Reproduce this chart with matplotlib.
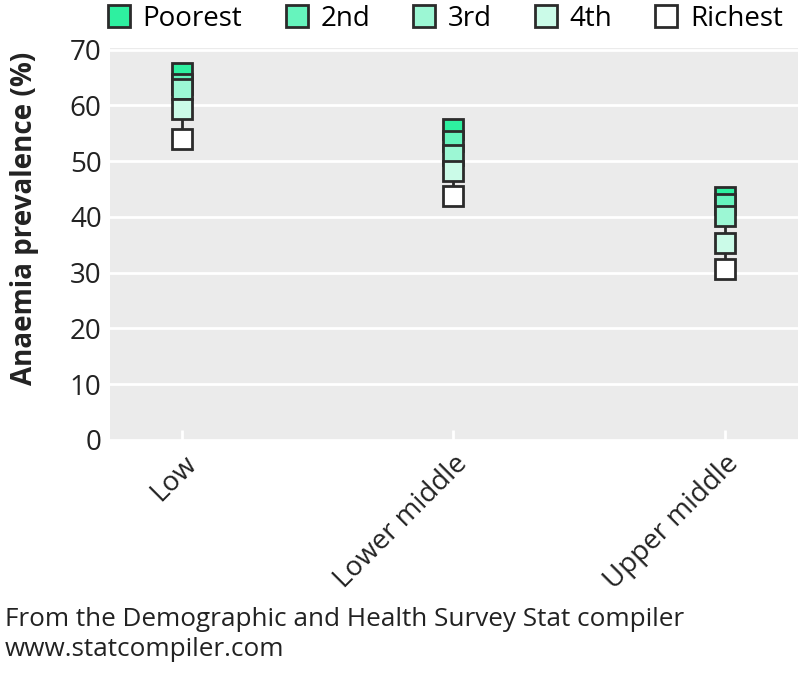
import matplotlib.pyplot as plt

# Anaemia prevalence by income group and wealth quintile
income_groups = ['Low', 'Lower middle', 'Upper middle']
quintiles = ['Poorest', '2nd', '3rd', '4th', 'Richest']
poorest = [65.8, 55.7, 43.5]
second = [63.9, 53.6, 42.4]
third = [63.0, 51.1, 40.2]
fourth = [59.4, 48.3, 35.4]
richest = [54.0, 43.8, 30.7]
colors = ['#2ef0a0', '#66f4bd', '#9cf7d4', '#cbfbe8', '#ffffff']

plt.rcParams['font.family'] = ['Open Sans', 'DejaVu Sans']

W, H = 798, 698
fig = plt.figure(figsize=(W / 100, H / 100), dpi=100)
# panel box in pixels: left 110, right 798, top 48, bottom 440
ax = fig.add_axes([110 / W, 1 - 440 / H, (798 - 110) / W, (440 - 48) / H])
ax.set_facecolor('#ebebeb')
for s in ax.spines.values():
    s.set_visible(False)

x = [1, 2, 3]
series = [poorest, second, third, fourth, richest]

# connecting line from richest to poorest
for i, xi in enumerate(x):
    ax.plot([xi, xi], [richest[i], poorest[i]], color='#2b2b2b', lw=2, zorder=2)

for k, (name, vals) in enumerate(zip(quintiles, series)):
    ax.plot(x, vals, linestyle='none', marker='s', markersize=14.5,
            markerfacecolor=colors[k], markeredgecolor='#2b2b2b',
            markeredgewidth=2, label=name, zorder=3 + k)

ax.set_xlim(0.734, 3.27)
ax.set_ylim(0, 70.3)
ax.set_yticks(range(0, 71, 10))
ax.set_xticks(x)
ax.set_xticklabels(income_groups, rotation=45, ha='right', va='top',
                   rotation_mode='anchor', fontsize=20, color='#222222')
ax.tick_params(axis='y', labelsize=20, labelcolor='#222222', length=0, pad=6)
ax.tick_params(axis='x', direction='in', length=7, width=2, color='white', pad=7)
ax.grid(axis='y', color='white', lw=2)
ax.set_axisbelow(True)

fig.text(25 / W, 1 - 218 / H, 'Anaemia prevalence (%)', rotation=90,
         fontsize=20, fontweight='bold', ha='center', va='center', color='#222222')

handles, labels = ax.get_legend_handles_labels()
fig.legend(handles, labels, loc='center', bbox_to_anchor=(444 / W, 1 - 19 / H),
           ncol=5, frameon=False, fontsize=20, handletextpad=0.35,
           columnspacing=1.45, handlelength=1.0, borderpad=0, markerscale=1.05)

fig.text(5 / W, 1 - 620 / H, 'From the Demographic and Health Survey Stat compiler',
         fontsize=18.8, ha='left', va='center', color='#222222')
fig.text(5 / W, 1 - 650 / H, 'www.statcompiler.com',
         fontsize=18.8, ha='left', va='center', color='#222222')

fig.savefig('out.png', dpi=100)
